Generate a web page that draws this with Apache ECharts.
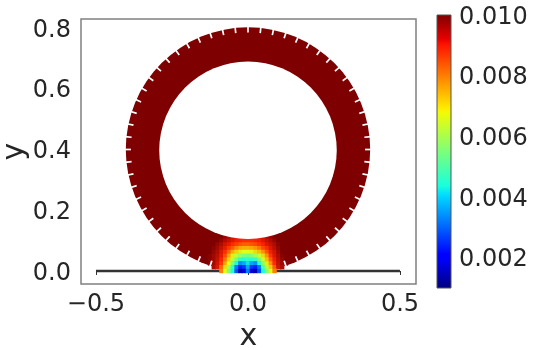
<!DOCTYPE html>
<html><head><meta charset="utf-8">
<style>html,body{margin:0;padding:0;background:#fff}#c{width:533px;height:350px}</style>
<script src="https://cdn.jsdelivr.net/npm/echarts@6/dist/echarts.min.js"></script>
</head><body><div id="c"></div>
<script>
const xTicks = [-0.5, 0, 0.5];
const yTicks = [0, 0.2, 0.4, 0.6, 0.8];
const cbTicks = [0.002, 0.004, 0.006, 0.008, 0.01];
const cbRange = [0.001, 0.01];
const floorLine = [[-0.5, 0], [0.5, 0]];
const wheelOuter = [[0, 0.4, 0.402]];
const wheelHole = [[0, 0.3975, 0.292]];
const notchAngles = [0,6,12,18,24,30,36,42,48,54,60,66,72,78,84,90,96,102,108,114,120,126,132,138,144,150,156,162,168,174,180,186,192,198,204,210,216,222,228,234,240,246,252,288,294,300,306,312,318,324,330,336,342,348,354];
const patchX = [-0.1375,-0.125,-0.1125,-0.1,-0.0875,-0.075,-0.0625,-0.05,-0.0375,-0.025,-0.0125,0,0.0125,0.025,0.0375,0.05,0.0625,0.075,0.0875,0.1,0.1125,0.125,0.1375];
const patchY = [0.1125,0.1,0.0875,0.075,0.0625,0.05,0.0375,0.025,0.0125,0];
const N = null;
const patchRows = [ // value x 1e-4, one row per patchY
 [100,100,100,100,100,98,96,94,92,91,90,90,90,91,92,94,96,98,100,100,100,100,100],
 [100,100,100,100,98,96,94,92,90,89,88,88,88,89,90,92,94,96,98,100,100,100,100],
 [100,100,100,98,96,93,91,88,86,84,83,83,84,85,87,89,92,94,96,99,100,100,100],
 [100,100,99,97,94,91,87,83,79,76,75,75,76,78,81,85,88,92,95,98,100,100,100],
 [100,100,98,96,92,88,82,75,71,68,66,66,67,70,73,78,84,90,93,97,100,100,100],
 [100,99,97,95,91,85,76,68,62,58,55,54,56,59,64,70,78,87,92,96,99,100,100],
 [N,99,97,94,89,81,71,62,54,47,45,47,45,48,55,64,73,83,90,95,98,100,N],
 [N,99,97,93,87,76,66,56,44,34,36,41,36,34,46,57,68,78,88,94,97,99,N],
 [N,N,96,92,82,70,60,47,32,24,26,36,26,24,32,49,62,72,83,93,96,N,N],
 [N,N,N,N,80,66,56,44,28,14,18,32,18,14,28,44,56,66,80,N,N,N,N]
];
const jetMap = ['#00007f','#0000ff','#0080ff','#17ffe0','#7cff7a','#e0ff17','#ff9700','#ff2200','#7f0000'];
const jetStopAt = [0,0.11,0.125,0.34,0.375,0.5,0.64,0.66,0.75,0.89,0.91,1];
const jetStopColor = ['#00007f','#0000ff','#0000ff','#00dbff','#19ffdd','#7cff7a','#f1fc06','#ffea00','#ff9700','#ff1300','#e80000','#7f0000'];

const patchData = [];
patchRows.forEach((row, j) => row.forEach((v, i) => { if (v !== null) patchData.push([patchX[i], patchY[j], v / 10000]); }));

const font = 'DejaVu Sans';
const txt = '#262626';
const chart = echarts.init(document.getElementById('c'), null, {renderer:'canvas'});
const disc = fill => (p, api) => {
  const c = api.coord([api.value(0), api.value(1)]);
  const r = api.size([api.value(2), 0])[0];
  return {type:'circle', shape:{cx:c[0], cy:c[1], r:r}, style:{fill:fill}};
};
chart.setOption({
  animation:false,
  backgroundColor:'#fff',
  grid:[
    {left:81, top:19, width:335, height:265, outerBoundsMode:'none', show:true, borderColor:'#808080', borderWidth:1.5, backgroundColor:'#fff'},
    {left:437, top:15, width:14, height:273, outerBoundsMode:'none', show:false}
  ],
  xAxis:[
    {gridIndex:0, type:'value', min:-0.5493, max:0.5527, splitLine:{show:false}, axisLine:{show:false},
     axisTick:{length:4, lineStyle:{color:'#333'}, customValues:xTicks},
     axisLabel:{customValues:xTicks, fontFamily:font, fontSize:24, color:txt, margin:9,
       formatter:v => (v < 0 ? '\u2212' : '') + Math.abs(v).toFixed(1)},
     name:'x', nameLocation:'middle', nameGap:38, nameTextStyle:{fontFamily:font, fontSize:30, color:txt}},
    {gridIndex:1, type:'value', min:0, max:1, show:false}
  ],
  yAxis:[
    {gridIndex:0, type:'value', min:-0.0428, max:0.8296, splitLine:{show:false}, axisLine:{show:false},
     axisTick:{length:4, lineStyle:{color:'#333'}, customValues:yTicks},
     axisLabel:{customValues:yTicks, fontFamily:font, fontSize:24, color:txt, margin:10, verticalAlign:'top', lineHeight:5, formatter:v => v.toFixed(1)},
     name:'y', nameLocation:'middle', nameGap:51, nameMoveOverlap:false, nameTextStyle:{fontFamily:font, fontSize:30, color:txt}},
    {gridIndex:1, type:'value', position:'right', min:cbRange[0], max:cbRange[1], splitLine:{show:false}, axisLine:{show:false},
     axisTick:{length:4, lineStyle:{color:'#333'}, customValues:cbTicks},
     axisLabel:{customValues:cbTicks, fontFamily:font, fontSize:24, color:txt, margin:8, verticalAlign:'top', lineHeight:5, formatter:v => v.toFixed(3)}}
  ],
  visualMap:{show:false, type:'continuous', seriesIndex:2, dimension:2, min:cbRange[0], max:cbRange[1], inRange:{color:jetMap}},
  series:[
    {type:'custom', xAxisIndex:0, yAxisIndex:0, data:wheelOuter, renderItem:disc('#7f0000'), z:2, silent:true},
    {type:'line', xAxisIndex:0, yAxisIndex:0, data:floorLine, symbol:'none', lineStyle:{color:'#333', width:2.5}, z:3, silent:true},
    {type:'scatter', xAxisIndex:0, yAxisIndex:0, data:patchData, symbol:'rect', symbolSize:4.4, z:4, silent:true, itemStyle:{opacity:1}},
    {type:'custom', xAxisIndex:0, yAxisIndex:0, data:notchAngles.map(a => [a]), z:5, silent:true,
     renderItem:(p, api) => {
       const t = api.value(0) * Math.PI / 180, c = wheelOuter[0];
       const a = api.coord([c[0] + (c[2] - 0.017) * Math.cos(t), c[1] + (c[2] - 0.017) * Math.sin(t)]);
       const b = api.coord([c[0] + (c[2] + 0.006) * Math.cos(t), c[1] + (c[2] + 0.006) * Math.sin(t)]);
       return {type:'line', shape:{x1:a[0], y1:a[1], x2:b[0], y2:b[1]}, style:{stroke:'#fff', lineWidth:1.7}};
     }},
    {type:'custom', xAxisIndex:0, yAxisIndex:0, data:wheelHole, renderItem:disc('#fff'), z:6, silent:true},
    {type:'custom', xAxisIndex:1, yAxisIndex:1, data:[[0, cbRange[0], 1, cbRange[1]]], silent:true,
     renderItem:(p, api) => {
       const a = api.coord([api.value(0), api.value(3)]), b = api.coord([api.value(2), api.value(1)]);
       return {type:'rect', shape:{x:a[0], y:a[1], width:b[0]-a[0], height:b[1]-a[1]},
         style:{stroke:'#555', lineWidth:1,
           fill:{type:'linear', x:0, y:1, x2:0, y2:0,
             colorStops:jetStopAt.map((o, i) => ({offset:o, color:jetStopColor[i]}))}}};
     }}
  ]
});
</script></body></html>
